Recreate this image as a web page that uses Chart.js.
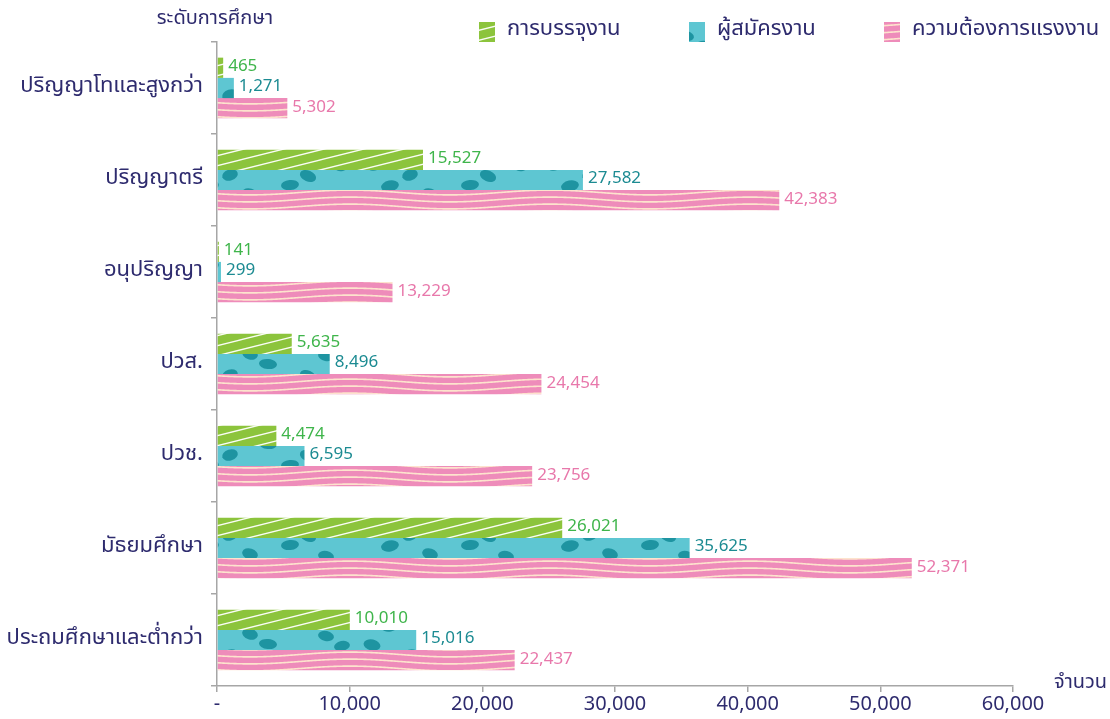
<!DOCTYPE html>
<html>
<head>
<meta charset="utf-8">
<script src="https://cdn.jsdelivr.net/npm/chart.js@4"></script>
<style>
html,body{margin:0;padding:0;background:#fff;}
#wrap{width:1110px;height:719px;position:relative;}
</style>
</head>
<body>
<div id="wrap"><canvas id="c" width="1110" height="719"></canvas></div>
<script>
const categories = ['ปริญญาโทและสูงกว่า','ปริญญาตรี','อนุปริญญา','ปวส.','ปวช.','มัธยมศึกษา','ประถมศึกษาและต่ำกว่า'];
const seriesNames = ['การบรรจุงาน','ผู้สมัครงาน','ความต้องการแรงงาน'];
const placement = [465, 15527, 141, 5635, 4474, 26021, 10010];
const applicants = [1271, 27582, 299, 8496, 6595, 35625, 15016];
const demand = [5302, 42383, 13229, 24454, 23756, 52371, 22437];
const xTicks = [0, 10000, 20000, 30000, 40000, 50000, 60000];
const yAxisTitle = 'ระดับการศึกษา';
const xAxisTitle = 'จำนวน';

const NAVY = '#2e2b6e';
const FONT = "'Noto Sans Thai','Noto Sans','DejaVu Sans',sans-serif";

function makeTile(w, h, draw) {
  const c = document.createElement('canvas');
  c.width = w; c.height = h;
  draw(c.getContext('2d'), w, h);
  return c;
}
const ctxMain = document.getElementById('c').getContext('2d');

const greenTile = makeTile(80, 20, (g, w, h) => {
  g.fillStyle = '#8cc43c'; g.fillRect(0, 0, w, h);
  g.strokeStyle = 'rgba(255,255,255,0.95)'; g.lineWidth = 1.3;
  for (let k = -20; k <= 40; k += 10) {
    g.beginPath(); g.moveTo(-1, k + 0.25); g.lineTo(w + 1, k - h - 0.25); g.stroke();
  }
});
const tealTile = makeTile(180, 40, (g, w, h) => {
  g.fillStyle = '#5ec6d2'; g.fillRect(0, 0, w, h);
  g.fillStyle = '#1e94a1';
  const blobs = [[12,5,8.5,5.5,0.2],[50,15,8,5.5,-0.3],[88,4,9,5,0.1],[128,16,8.5,5.5,0.4],[162,6,8,5,-0.2],
                 [30,26,9,5.5,-0.2],[70,34,8,5.5,0.3],[110,25,9,5,-0.1],[146,36,8,5,0.2]];
  blobs.forEach(b => {
    for (const dx of [-w, 0, w]) for (const dy of [-h, 0, h]) {
      g.beginPath(); g.ellipse(b[0] + dx, b[1] + dy, b[2], b[3], b[4], 0, Math.PI * 2); g.fill();
    }
  });
});
const pinkTile = makeTile(200, 7, (g, w, h) => {
  g.fillStyle = '#ee8cba'; g.fillRect(0, 0, w, h);
  g.strokeStyle = '#fde3cd'; g.lineWidth = 1.6;
  for (const off of [-7, 0, 7]) {
    g.beginPath();
    for (let x = 0; x <= w; x++) {
      const y = 3.5 + off + 2.4 * Math.sin((x / w) * Math.PI * 2);
      if (x === 0) g.moveTo(x, y); else g.lineTo(x, y);
    }
    g.stroke();
  }
});
const patterns = [
  ctxMain.createPattern(greenTile, 'repeat'),
  ctxMain.createPattern(tealTile, 'repeat'),
  ctxMain.createPattern(pinkTile, 'repeat')
];
const labelColors = ['#3fb54b', '#1c8b92', '#e878ab'];
const seriesData = [placement, applicants, demand];

const fmt = v => v.toLocaleString('en-US');

const valueLabels = {
  id: 'valueLabels',
  afterDatasetsDraw(chart) {
    const ctx = chart.ctx;
    ctx.save();
    ctx.font = '17px ' + FONT;
    ctx.textBaseline = 'middle';
    ctx.textAlign = 'left';
    chart.data.datasets.forEach((ds, di) => {
      const meta = chart.getDatasetMeta(di);
      ctx.fillStyle = labelColors[di];
      meta.data.forEach((el, i) => {
        ctx.fillText(fmt(ds.data[i]), el.x + 5, el.y);
      });
    });
    ctx.restore();
  }
};

const extras = {
  id: 'extras',
  afterDraw(chart) {
    const ctx = chart.ctx;
    ctx.save();
    ctx.fillStyle = NAVY;
    ctx.textBaseline = 'middle';
    ctx.font = '20px ' + FONT;
    ctx.textAlign = 'center';
    ctx.fillText(yAxisTitle, 215, 20);
    ctx.textAlign = 'left';
    ctx.fillText(xAxisTitle, 1054, 684);
    // legend
    const iconX = [479, 689, 884];
    ctx.font = '22px ' + FONT;
    chart.data.datasets.forEach((ds, di) => {
      const x = iconX[di];
      ctx.fillStyle = ds.backgroundColor;
      ctx.fillRect(x, 22, 16, 20);
      ctx.fillStyle = NAVY;
      ctx.fillText(ds.label, x + 28, 31);
    });
    ctx.restore();
  }
};

new Chart(ctxMain, {
  type: 'bar',
  data: {
    labels: categories,
    datasets: seriesNames.map((name, i) => ({
      label: name,
      data: seriesData[i],
      backgroundColor: patterns[i],
      borderWidth: 0,
      categoryPercentage: 0.66,
      barPercentage: 1.0
    }))
  },
  options: {
    indexAxis: 'y',
    responsive: false,
    animation: false,
    devicePixelRatio: 1,
    layout: { padding: { top: 42, right: 97, left: 0, bottom: 0 } },
    plugins: { legend: { display: false }, tooltip: { enabled: false } },
    scales: {
      x: {
        min: 0, max: 60000,
        afterBuildTicks(scale) { scale.ticks = xTicks.map(v => ({ value: v })); },
        afterFit(scale) { scale.height = 33; },
        ticks: {
          color: NAVY, font: { size: 20, family: FONT }, padding: 2,
          callback: v => v === 0 ? '-' : fmt(v)
        },
        grid: { drawOnChartArea: false, drawTicks: true, tickLength: 6, color: '#a6a6a6', lineWidth: 1.5 },
        border: { color: '#a6a6a6', width: 1.5 }
      },
      y: {
        afterFit(scale) { scale.width = 217; },
        ticks: { color: NAVY, font: { size: 22, family: FONT }, padding: 8 },
        grid: { drawOnChartArea: false, drawTicks: true, tickLength: 6, color: '#a6a6a6', lineWidth: 1.5, offset: true },
        border: { color: '#a6a6a6', width: 1.5 }
      }
    }
  },
  plugins: [valueLabels, extras]
});
</script>
</body>
</html>
